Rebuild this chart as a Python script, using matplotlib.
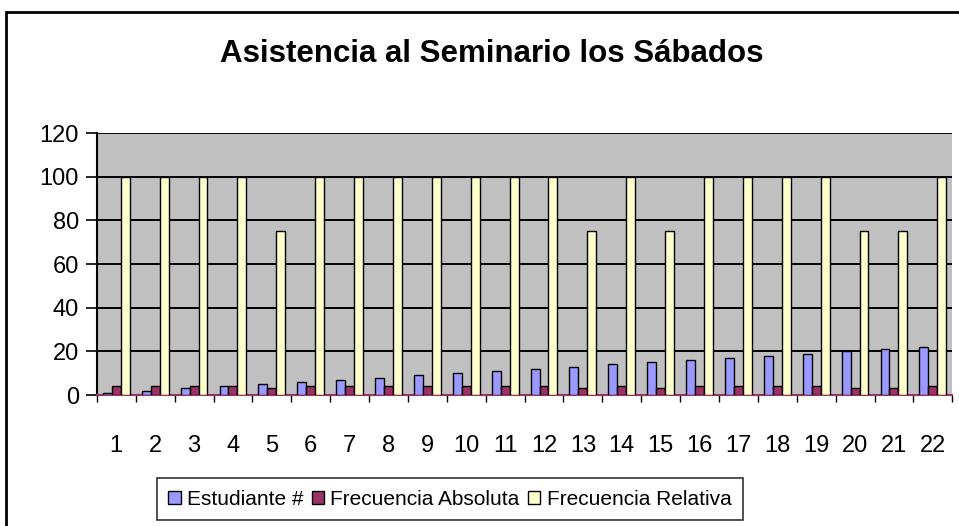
import numpy as np
import matplotlib
matplotlib.use("Agg")
import matplotlib.pyplot as plt
from matplotlib.patches import Rectangle

plt.rcParams['font.family'] = ['Liberation Sans', 'DejaVu Sans']

# datos
categorias = [str(i) for i in range(1, 23)]
estudiante = [1, 2, 3, 4, 5, 6, 7, 8, 9, 10, 11, 12, 13, 14, 15, 16, 17, 18, 19, 20, 21, 22]
frec_absoluta = [4, 4, 4, 4, 3, 4, 4, 4, 4, 4, 4, 4, 3, 4, 3, 4, 4, 4, 4, 3, 3, 4]
frec_relativa = [100, 100, 100, 100, 75, 100, 100, 100, 100, 100, 100, 100,
                 75, 100, 75, 100, 100, 100, 100, 75, 75, 100]

nombres = ["Estudiante #", "Frecuencia Absoluta", "Frecuencia Relativa"]
colores = ["#9999FF", "#993366", "#FFFFCC"]

fig = plt.figure(figsize=(9.59, 5.26), dpi=100)
ax = fig.add_axes([0.101, 0.249, 0.892, 0.498])
ax.set_facecolor("#C0C0C0")

x = np.arange(len(categorias))
ancho = 0.23
series = [estudiante, frec_absoluta, frec_relativa]
for i, (valores, nombre, color) in enumerate(zip(series, nombres, colores)):
    ax.bar(x + (i - 1) * ancho, valores, ancho, color=color, edgecolor="black",
           linewidth=1.0, label=nombre, zorder=3)

ax.set_ylim(0, 120)
ax.set_xlim(-0.5, len(categorias) - 0.5)
ax.set_yticks(range(0, 121, 20))
ax.set_xticks(x)
ax.set_xticklabels(categorias)
ax.tick_params(axis="y", labelsize=17, length=8, width=1.2, pad=5)
ax.tick_params(axis="x", labelsize=17, length=0, pad=29)
ax.set_xticks(np.arange(-0.5, len(categorias), 1), minor=True)
ax.tick_params(axis="x", which="minor", length=5, width=1.0)

ax.yaxis.grid(True, color="black", linewidth=1.4, zorder=1)
ax.set_axisbelow(True)
for lado in ["top", "right"]:
    ax.spines[lado].set_visible(False)
ax.spines["left"].set_linewidth(1.5)
ax.spines["bottom"].set_color("#993366")
ax.spines["bottom"].set_linewidth(1.5)

fig.text(0.513, 0.898, "Asistencia al Seminario los Sábados", ha="center",
         va="center", fontsize=22.5, fontweight="bold")

leyenda = fig.legend(loc="center", bbox_to_anchor=(0.469, 0.051), ncol=3,
                     fontsize=15, frameon=True, fancybox=False, edgecolor="black",
                     handlelength=0.6, handleheight=0.6, handletextpad=0.3,
                     columnspacing=0.4, borderpad=0.55, borderaxespad=0)
leyenda.get_frame().set_linewidth(1.2)

# borde del area del grafico
fig.patches.append(Rectangle((0.006, -0.1), 1.2, 1.077, transform=fig.transFigure,
                             fill=False, edgecolor="black", linewidth=2.0))

fig.savefig("out.png", dpi=100)
